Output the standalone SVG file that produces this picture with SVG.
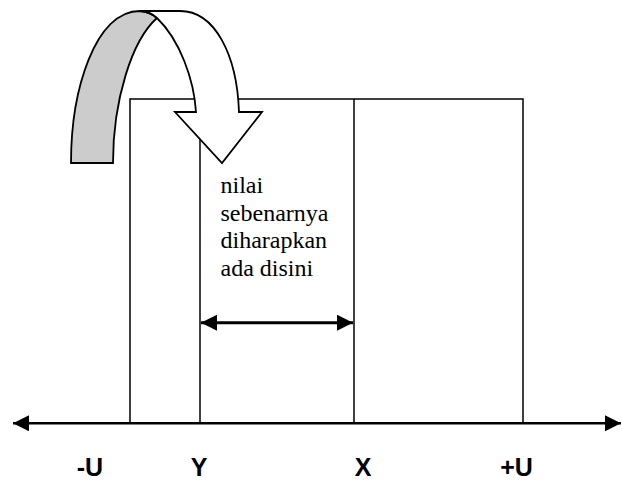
<svg xmlns="http://www.w3.org/2000/svg" width="622" height="481" viewBox="0 0 622 481">
<style>
.ln{stroke:#000;stroke-width:1.5;fill:none}
.ax{stroke:#000;fill:none}
.lbl{font-family:"Liberation Sans",Arial,sans-serif;font-weight:bold;font-size:25px;fill:#000;text-anchor:middle}
.note{font-family:"Liberation Serif","Times New Roman",serif;font-size:24px;fill:#000}
.arw{stroke:#000;stroke-width:1.8;stroke-linejoin:miter}
</style>
<defs>
<marker id="ah" markerUnits="userSpaceOnUse" markerWidth="17" markerHeight="16" refX="16" refY="8" orient="auto-start-reverse">
<path d="M0,0 L16,8 L0,16 Z" fill="#000"/>
</marker>
</defs>
<g id="box">
<rect class="ln" x="130" y="99" width="393" height="324"/>
</g>
<g id="line-Y"><line class="ln" x1="200" y1="99" x2="200" y2="423"/></g>
<g id="line-X"><line class="ln" x1="354" y1="99" x2="354" y2="423"/></g>
<g id="connectors">
<line class="ax" stroke-width="2.5" x1="13" y1="423.3" x2="621" y2="423.3" marker-start="url(#ah)" marker-end="url(#ah)"/>
<line class="ax" stroke-width="3" x1="201" y1="322.7" x2="353" y2="322.7" marker-start="url(#ah)" marker-end="url(#ah)"/>
</g>
<g id="curved-arrow">
<path class="arw" fill="#cccccc" d="M71,163 C71,90 95,11 140,11 Q151,12 157,18 C132,40 113,100 113,163 Z"/>
<path class="arw" fill="#ffffff" d="M140,11 L180,11 C215,11 237,55 239,112 L262,112 L222,163 L175,112 L196,112 C194,80 180,40 157,18 Q151,12 140,11 Z"/>
</g>
<g id="note">
<text class="note" x="220.5" y="193">nilai</text>
<text class="note" x="220.5" y="220.5">sebenarnya</text>
<text class="note" x="220.5" y="248">diharapkan</text>
<text class="note" x="220.5" y="275.5">ada disini</text>
</g>
<g id="labels">
<text class="lbl" x="90" y="476">-U</text>
<text class="lbl" x="199" y="476">Y</text>
<text class="lbl" x="363" y="476">X</text>
<text class="lbl" x="516.5" y="476">+U</text>
</g>
</svg>
